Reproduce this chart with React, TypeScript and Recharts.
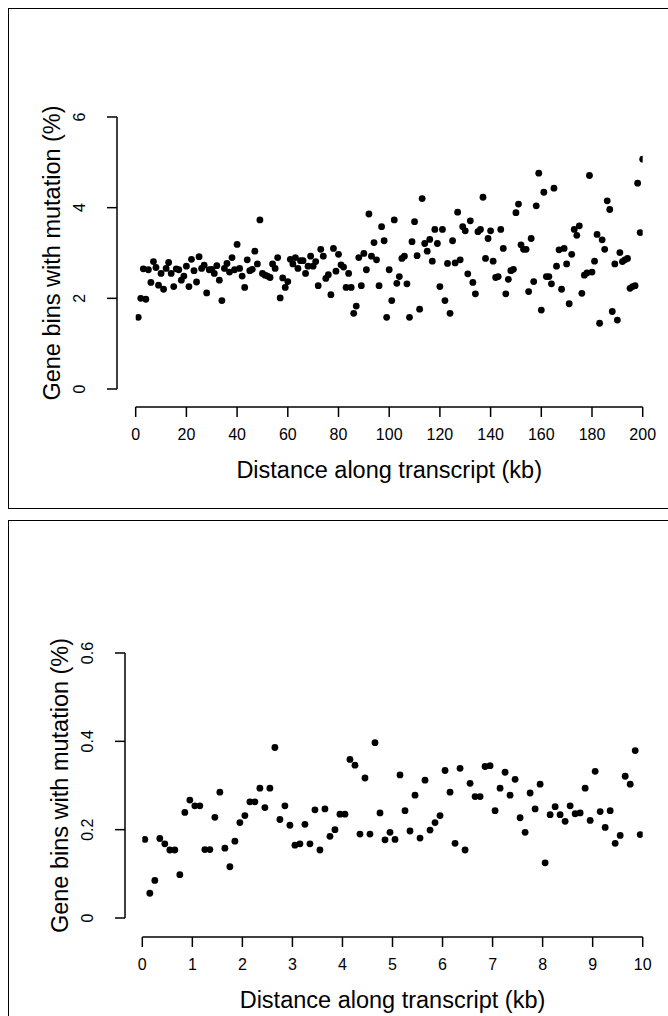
import React from 'react';
import { ScatterChart, Scatter, XAxis, YAxis } from 'recharts';

const FONT = '"Liberation Sans", Arial, Helvetica, sans-serif';

// ---------- Panel 1: distance in kb (0-200) ----------
const kbDistance = [
  1, 2, 3, 4, 5, 6, 7, 8, 9, 10, 11, 12, 13, 14, 15, 16, 17, 18, 19, 20,
  21, 22, 23, 24, 25, 26, 27, 28, 29, 30, 31, 32, 33, 34, 35, 36, 37, 38, 39, 40,
  41, 42, 43, 44, 45, 46, 47, 48, 49, 50, 51, 52, 53, 54, 55, 56, 57, 58, 59, 60,
  61, 62, 63, 64, 65, 66, 67, 68, 69, 70, 71, 72, 73, 74, 75, 76, 77, 78, 79, 80,
  81, 82, 83, 84, 85, 86, 87, 88, 89, 90, 91, 92, 93, 94, 95, 96, 97, 98, 99, 100,
  101, 102, 103, 104, 105, 106, 107, 108, 109, 110, 111, 112, 113, 114, 115, 116, 117, 118, 119, 120,
  121, 122, 123, 124, 125, 126, 127, 128, 129, 130, 131, 132, 133, 134, 135, 136, 137, 138, 139, 140,
  141, 142, 143, 144, 145, 146, 147, 148, 149, 150, 151, 152, 153, 154, 155, 156, 157, 158, 159, 160,
  161, 162, 163, 164, 165, 166, 167, 168, 169, 170, 171, 172, 173, 174, 175, 176, 177, 178, 179, 180,
  181, 182, 183, 184, 185, 186, 187, 188, 189, 190, 191, 192, 193, 194, 195, 196, 197, 198, 199, 200,
];
const kbMutationPct = [
  1.58, 2.0, 2.65, 1.98, 2.63, 2.35, 2.81, 2.68, 2.29, 2.55,
  2.2, 2.66, 2.79, 2.55, 2.26, 2.65, 2.63, 2.4, 2.49, 2.71,
  2.26, 2.86, 2.61, 2.36, 2.92, 2.66, 2.73, 2.12, 2.63, 2.64,
  2.55, 2.72, 2.4, 1.95, 2.66, 2.77, 2.58, 2.9, 2.63, 3.19,
  2.66, 2.49, 2.24, 2.85, 2.61, 2.64, 3.04, 2.76, 3.73, 2.55,
  2.51, 2.49, 2.46, 2.76, 2.66, 2.9, 2.01, 2.45, 2.24, 2.37,
  2.86, 2.76, 2.9, 2.66, 2.83, 2.83, 2.55, 2.71, 2.93, 2.71,
  2.81, 2.28, 3.08, 2.93, 2.44, 2.52, 2.08, 3.1, 2.6, 2.97,
  2.74, 2.69, 2.24, 2.55, 2.24, 1.67, 1.83, 2.9, 2.28, 2.99,
  2.63, 3.86, 2.93, 3.23, 2.85, 2.28, 3.58, 3.27, 1.58, 2.63,
  1.95, 3.73, 2.33, 2.48, 2.88, 2.93, 2.32, 1.58, 3.25, 3.69,
  2.94, 1.76, 4.2, 3.21, 3.04, 3.3, 2.82, 3.52, 3.21, 2.26,
  3.52, 1.95, 2.77, 1.67, 3.27, 2.78, 3.9, 2.85, 3.58, 3.49,
  2.54, 3.71, 2.35, 2.1, 3.47, 3.52, 4.23, 2.88, 3.32, 3.49,
  2.82, 2.46, 2.48, 3.52, 3.1, 2.1, 2.42, 2.61, 2.64, 3.89,
  4.08, 3.18, 3.08, 3.08, 2.15, 3.32, 2.37, 4.04, 4.76, 1.74,
  4.34, 2.48, 2.48, 2.32, 4.43, 2.71, 3.07, 2.2, 3.1, 2.76,
  1.88, 2.97, 3.52, 3.39, 3.6, 2.11, 2.51, 2.56, 4.71, 2.58,
  2.82, 3.41, 1.45, 3.29, 3.08, 4.15, 3.96, 1.71, 2.76, 1.52,
  3.01, 2.81, 2.85, 2.88, 2.22, 2.26, 2.28, 4.54, 3.45, 5.07,
];
const kbXTicks = [0, 20, 40, 60, 80, 100, 120, 140, 160, 180, 200];
const kbYTicks = [0, 2, 4, 6];
const kbYTickLabels = ['0', '2', '4', '6'];

// ---------- Panel 2: distance in kb (0-10) ----------
const binDistance = [
  0.05, 0.15, 0.25, 0.35, 0.45, 0.55, 0.65, 0.75, 0.85, 0.95,
  1.05, 1.15, 1.25, 1.35, 1.45, 1.55, 1.65, 1.75, 1.85, 1.95,
  2.05, 2.15, 2.25, 2.35, 2.45, 2.55, 2.65, 2.75, 2.85, 2.95,
  3.05, 3.15, 3.25, 3.35, 3.45, 3.55, 3.65, 3.75, 3.85, 3.95,
  4.05, 4.15, 4.25, 4.35, 4.45, 4.55, 4.65, 4.75, 4.85, 4.95,
  5.05, 5.15, 5.25, 5.35, 5.45, 5.55, 5.65, 5.75, 5.85, 5.95,
  6.05, 6.15, 6.25, 6.35, 6.45, 6.55, 6.65, 6.75, 6.85, 6.95,
  7.05, 7.15, 7.25, 7.35, 7.45, 7.55, 7.65, 7.75, 7.85, 7.95,
  8.05, 8.15, 8.25, 8.35, 8.45, 8.55, 8.65, 8.75, 8.85, 8.95,
  9.05, 9.15, 9.25, 9.35, 9.45, 9.55, 9.65, 9.75, 9.85, 9.95,
];
const binMutationPct = [
  0.178, 0.056, 0.085, 0.18, 0.168, 0.154, 0.154, 0.098, 0.239, 0.267,
  0.254, 0.254, 0.155, 0.155, 0.228, 0.285, 0.158, 0.116, 0.174, 0.216,
  0.232, 0.263, 0.263, 0.294, 0.25, 0.294, 0.386, 0.223, 0.254, 0.21,
  0.165, 0.168, 0.212, 0.168, 0.245, 0.154, 0.247, 0.185, 0.2, 0.235,
  0.235, 0.359, 0.346, 0.19, 0.317, 0.19, 0.397, 0.238, 0.177, 0.194,
  0.178, 0.324, 0.243, 0.197, 0.278, 0.181, 0.312, 0.199, 0.216, 0.232,
  0.334, 0.285, 0.169, 0.339, 0.154, 0.305, 0.275, 0.275, 0.343, 0.345,
  0.243, 0.294, 0.33, 0.278, 0.314, 0.227, 0.194, 0.283, 0.247, 0.303,
  0.125, 0.234, 0.252, 0.234, 0.219, 0.254, 0.236, 0.238, 0.294, 0.221,
  0.332, 0.241, 0.205, 0.243, 0.169, 0.187, 0.321, 0.303, 0.379, 0.189,
];
const binXTicks = [0, 1, 2, 3, 4, 5, 6, 7, 8, 9, 10];
const binYTicks = [0, 0.2, 0.4, 0.6];
const binYTickLabels = ['0', '0.2', '0.4', '0.6'];

const xTitle = 'Distance along transcript (kb)';
const yTitle = 'Gene bins with mutation (%)';

const kbData = kbDistance.map((x, i) => ({ x, y: kbMutationPct[i] }));
const binData = binDistance.map((x, i) => ({ x, y: binMutationPct[i] }));

const AXIS_STROKE = { stroke: '#000', strokeWidth: 1.5 };
const CHART_W = 659;

const renderDot = (p: any) => <circle cx={p.cx} cy={p.cy} r={3.4} fill="#000" />;

function makeYTick(ticks: number[], labels: string[]) {
  return (p: any) => {
    const v = p.payload ? p.payload.value : 0;
    const idx = ticks.indexOf(v);
    const txt = idx >= 0 ? labels[idx] : String(v);
    return (
      <text
        x={p.x}
        y={p.y}
        transform={`rotate(-90 ${p.x} ${p.y})`}
        textAnchor="middle"
        fontSize={16}
        fontFamily={FONT}
        fill="#000"
      >
        {txt}
      </text>
    );
  };
}

const renderXTitle = (p: any) => {
  const vb = p.viewBox || {};
  const cx = (vb.x || 0) + (vb.width || 0) / 2;
  const y = (vb.y || 0) + 71.4;
  return (
    <text x={cx} y={y} textAnchor="middle" fontSize={23.5} fontFamily={FONT} fill="#000">
      {xTitle}
    </text>
  );
};

const renderYTitle = (p: any) => {
  const vb = p.viewBox || {};
  const x = (vb.x || 0) + (vb.width || 0) - 57;
  const y = (vb.y || 0) + (vb.height || 0) / 2;
  return (
    <text
      x={x}
      y={y}
      transform={`rotate(-90 ${x} ${y})`}
      textAnchor="middle"
      fontSize={23.5}
      fontFamily={FONT}
      fill="#000"
    >
      {yTitle}
    </text>
  );
};

type PanelProps = {
  data: { x: number; y: number }[];
  xDomain: [number, number];
  xTicks: number[];
  yDomain: [number, number];
  yTicks: number[];
  yLabels: string[];
  height: number;
  margin: { top: number; right: number; bottom: number; left: number };
  gapLeft: number;
  gapBottom: number;
};

function Panel(props: PanelProps) {
  const { data, xDomain, xTicks, yDomain, yTicks, yLabels, height, margin, gapLeft, gapBottom } = props;
  return (
    <ScatterChart width={CHART_W} height={height} margin={margin} accessibilityLayer={false}>
      <XAxis
        xAxisId="gap"
        type="number"
        domain={[0, 1]}
        height={gapBottom}
        tick={false}
        tickLine={false}
        axisLine={false}
      />
      <XAxis
        xAxisId="main"
        type="number"
        dataKey="x"
        domain={xDomain}
        ticks={xTicks}
        interval={0}
        height={90}
        tickSize={10}
        tickMargin={12}
        axisLine={AXIS_STROKE}
        tickLine={AXIS_STROKE}
        tick={{ fill: '#000', fontSize: 16, fontFamily: FONT }}
        label={renderXTitle}
        allowDataOverflow
      />
      <YAxis
        yAxisId="gap"
        type="number"
        domain={[0, 1]}
        width={gapLeft}
        tick={false}
        tickLine={false}
        axisLine={false}
      />
      <YAxis
        yAxisId="main"
        type="number"
        dataKey="y"
        domain={yDomain}
        ticks={yTicks}
        interval={0}
        width={90}
        tickSize={10}
        tickMargin={22}
        axisLine={AXIS_STROKE}
        tickLine={AXIS_STROKE}
        tick={makeYTick(yTicks, yLabels)}
        label={renderYTitle}
        allowDataOverflow
      />
      <Scatter
        xAxisId="main"
        yAxisId="main"
        data={data}
        isAnimationActive={false}
        shape={renderDot}
      />
    </ScatterChart>
  );
}

const panelFrame = {
  borderTop: '1px solid #000',
  borderLeft: '1px solid #000',
  borderBottom: '1px solid #000',
  borderRight: 'none',
  width: CHART_W,
  overflow: 'hidden',
  boxSizing: 'content-box' as const,
};

export default function App() {
  return (
    <div style={{ fontFamily: FONT, width: 660 }}>
      <style>
        {'html{overflow:hidden;} body{min-width:660px;} #root{width:660px;} svg,svg:focus,*:focus{outline:none !important;}'}
      </style>
      <div style={{ ...panelFrame, height: 499 }}>
        <Panel
          data={kbData}
          xDomain={[0, 200]}
          xTicks={kbXTicks}
          yDomain={[0, 6]}
          yTicks={kbYTicks}
          yLabels={kbYTickLabels}
          height={499}
          margin={{ top: 108, right: CHART_W - 633.7, bottom: 11, left: 18 }}
          gapLeft={18.7}
          gapBottom={18}
        />
      </div>
      <div style={{ ...panelFrame, height: 520, marginTop: 11 }}>
        <Panel
          data={binData}
          xDomain={[0, 10]}
          xTicks={binXTicks}
          yDomain={[0, 0.6]}
          yTicks={binYTicks}
          yLabels={binYTickLabels}
          height={510}
          margin={{ top: 132, right: CHART_W - 633.7, bottom: 4, left: 26 }}
          gapLeft={17.3}
          gapBottom={19}
        />
      </div>
    </div>
  );
}
